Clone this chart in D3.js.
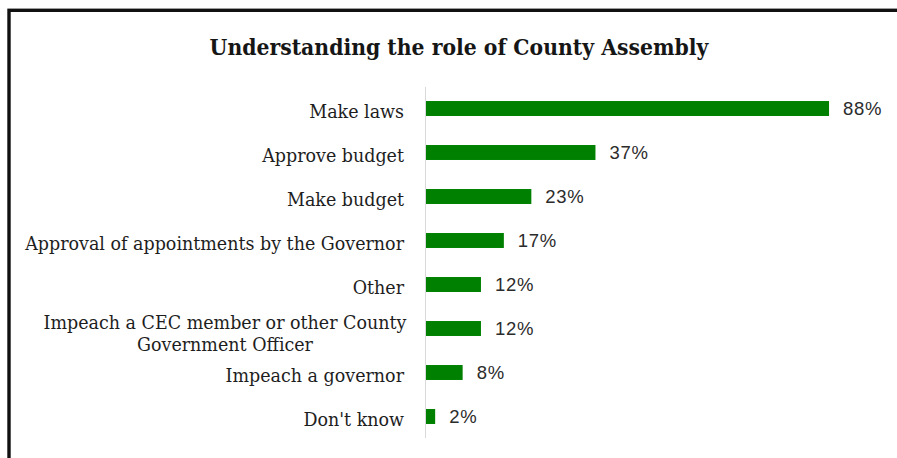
<!DOCTYPE html>
<html>
<head>
<meta charset="utf-8">
<script src="https://cdn.jsdelivr.net/npm/d3@7"></script>
<style>
  html, body { margin: 0; padding: 0; background: #ffffff; }
  svg { display: block; }
</style>
</head>
<body>
<svg id="chart" width="897" height="458"></svg>
<script>
// Survey responses: what respondents understand the County Assembly to do
const categories = [
  "Make laws",
  "Approve budget",
  "Make budget",
  "Approval of appointments by the Governor",
  "Other",
  "Impeach a CEC member or other County Government Officer",
  "Impeach a governor",
  "Don't know"
];
const values = [88, 37, 23, 17, 12, 12, 8, 2];
const titleText = "Understanding the role of County Assembly";

// Category labels that wrap onto two lines
const labelLines = {
  "Impeach a CEC member or other County Government Officer": [
    "Impeach a CEC member or other County",
    "Government Officer"
  ]
};

const W = 897, H = 458;
const TALL = 1.1; // text is drawn slightly taller than its natural proportions
const svg = d3.select("#chart");

// Frame around the chart (left and top edges visible)
svg.append("rect")
  .attr("x", 9).attr("y", 10.3)
  .attr("width", W + 20).attr("height", H + 20)
  .attr("fill", "#fff")
  .attr("stroke", "#111")
  .attr("stroke-width", 3.4);

svg.append("text")
  .attr("transform", `translate(459,54.5) scale(1,${TALL})`)
  .attr("text-anchor", "middle")
  .attr("font-family", "'DejaVu Serif', serif")
  .attr("font-weight", "bold")
  .attr("font-size", 20.4)
  .attr("fill", "#161616")
  .text(titleText);

const x0 = 426;
const x = d3.scaleLinear().domain([0, 100]).range([x0, x0 + 458]);
const y = d3.scaleBand().domain(categories).range([86.5, 438.5]).paddingInner(0.66).paddingOuter(0.33);

// Vertical category axis line
svg.append("line")
  .attr("x1", x0 - 0.5).attr("x2", x0 - 0.5)
  .attr("y1", 87).attr("y2", 438)
  .attr("stroke", "#d9d9d9").attr("stroke-width", 1);

// Bars
svg.append("g").selectAll("rect")
  .data(categories)
  .join("rect")
  .attr("x", x(0))
  .attr("y", d => y(d))
  .attr("width", (d, i) => x(values[i]) - x(0))
  .attr("height", y.bandwidth())
  .attr("fill", "#008000");

const mid = d => y(d) + y.bandwidth() / 2;

// Value labels
svg.append("g").selectAll("text")
  .data(categories)
  .join("text")
  .attr("transform", (d, i) => `translate(${x(values[i]) + 14},${mid(d) + 6.5})`)
  .attr("font-family", "'Liberation Sans', Arial, sans-serif")
  .attr("font-size", 18.5)
  .attr("letter-spacing", 0.7)
  .attr("fill", "#2b2b2b")
  .text((d, i) => values[i] + "%");

// Category labels
svg.append("g").selectAll("text")
  .data(categories)
  .join("text")
  .attr("font-family", "'DejaVu Serif', serif")
  .attr("font-size", 17.5)
  .attr("fill", "#1e1e1e")
  .each(function(d) {
    const lines = labelLines[d] || [d];
    const t = d3.select(this);
    if (lines.length === 1) {
      t.attr("transform", `translate(404,${mid(d) + 9}) scale(1,${TALL})`)
        .attr("text-anchor", "end")
        .text(d);
    } else {
      const lh = 22;
      t.attr("transform", `translate(225,${mid(d) + 0.5}) scale(1,${TALL})`)
        .attr("text-anchor", "middle");
      lines.forEach((ln, k) => {
        t.append("tspan")
          .attr("x", 0)
          .attr("dy", k === 0 ? 0 : lh / TALL)
          .text(ln);
      });
    }
  });
</script>
</body>
</html>
